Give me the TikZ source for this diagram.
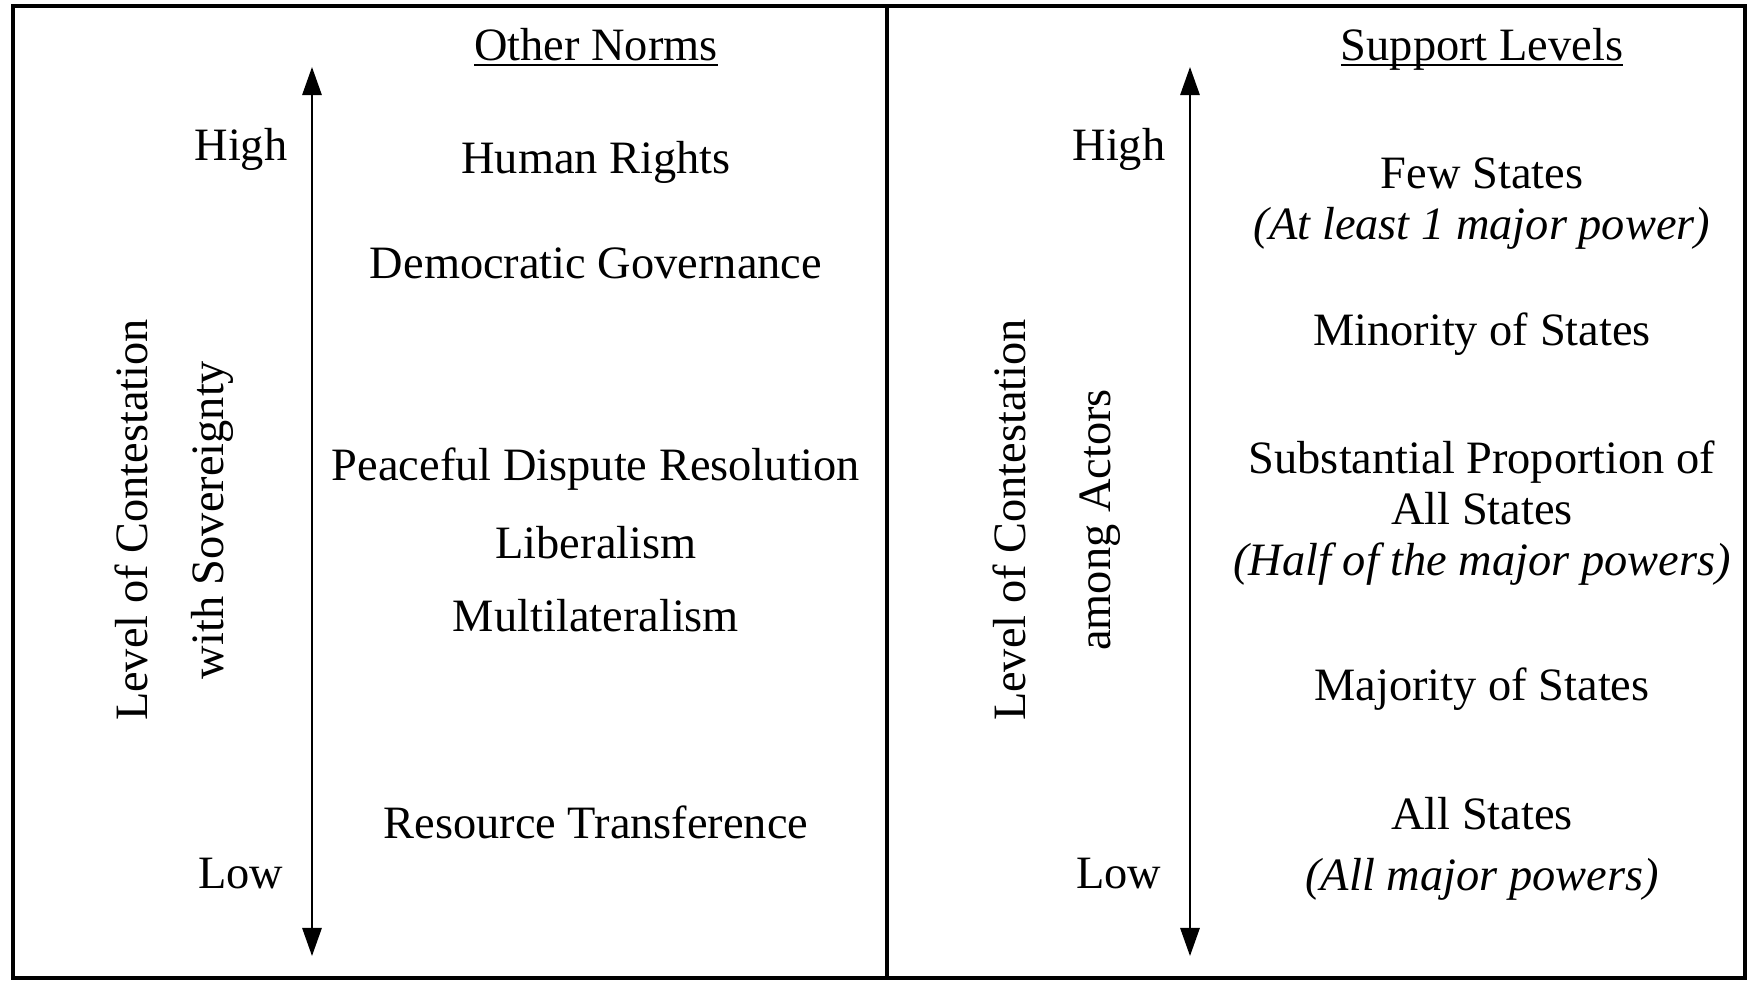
\documentclass[tikz,border=0pt]{standalone}
\usepackage{fontspec}
\setmainfont{Liberation Serif}
\usetikzlibrary{arrows.meta}

\begin{document}
\begin{tikzpicture}[x=0.1mm, y=-0.1mm,
    lbl/.style={font=\fontsize{13.2}{14.5}\selectfont, inner sep=0pt, align=center},
    side/.style={lbl, rotate=90},
    scalearrow/.style={line width=0.6pt,
        {Triangle[length=8pt,width=5.5pt]}-{Triangle[length=8pt,width=5.5pt]}},
    frame/.style={line width=1.2pt}]
\useasboundingbox (0,0) rectangle (1747,980);

% Outer frame and divider
\draw[frame] (13,6) rectangle (1745,978);
\draw[frame] (887,6) -- (887,978);

% Left panel: other norms
\node[lbl, anchor=base] (normtitle) at (596,60) {\underline{\smash{Other Norms}}};
\coordinate (ltop) at (312,67);
\coordinate (lbot) at (312,956);
\draw[scalearrow] (ltop) -- (lbot);
\node[lbl, anchor=east] (lhigh) at (288,149) {High};
\node[lbl, anchor=east] (llow) at (284,874) {Low};
\node[side] (lcont) at (131,520) {Level of Contestation};
\node[side] (lsov) at (212,520) {with Sovereignty};

\node[lbl] (hr) at (596,162) {Human Rights};
\node[lbl] (dem) at (596,263) {Democratic Governance};
\node[lbl] (pdr) at (596,469) {Peaceful Dispute Resolution};
\node[lbl] (lib) at (596,543) {Liberalism};
\node[lbl] (multi) at (596,616) {Multilateralism};
\node[lbl] (res) at (596,822) {Resource Transference};

% Right panel: support levels
\node[lbl, anchor=base] (suptitle) at (1482,60) {\underline{\smash{Support Levels}}};
\coordinate (rtop) at (1190,67);
\coordinate (rbot) at (1190,956);
\draw[scalearrow] (rtop) -- (rbot);
\node[lbl, anchor=east] (rhigh) at (1166,149) {High};
\node[lbl, anchor=east] (rlow) at (1162,874) {Low};
\node[side] (rcont) at (1009,520) {Level of Contestation};
\node[side] (ractors) at (1100,520) {among Actors};

\node[lbl] (few) at (1482,204) {Few States\\ \textit{(At least 1 major power)}};
\node[lbl] (minor) at (1482,334) {Minority of States};
\node[lbl] (subst) at (1482,513) {Substantial Proportion of\\ All States\\ \textit{(Half of the major powers)}};
\node[lbl] (major) at (1482,689) {Majority of States};
\node[lbl] (all) at (1482,849) {All States\\[3pt] \textit{(All major powers)}};
\end{tikzpicture}
\end{document}
